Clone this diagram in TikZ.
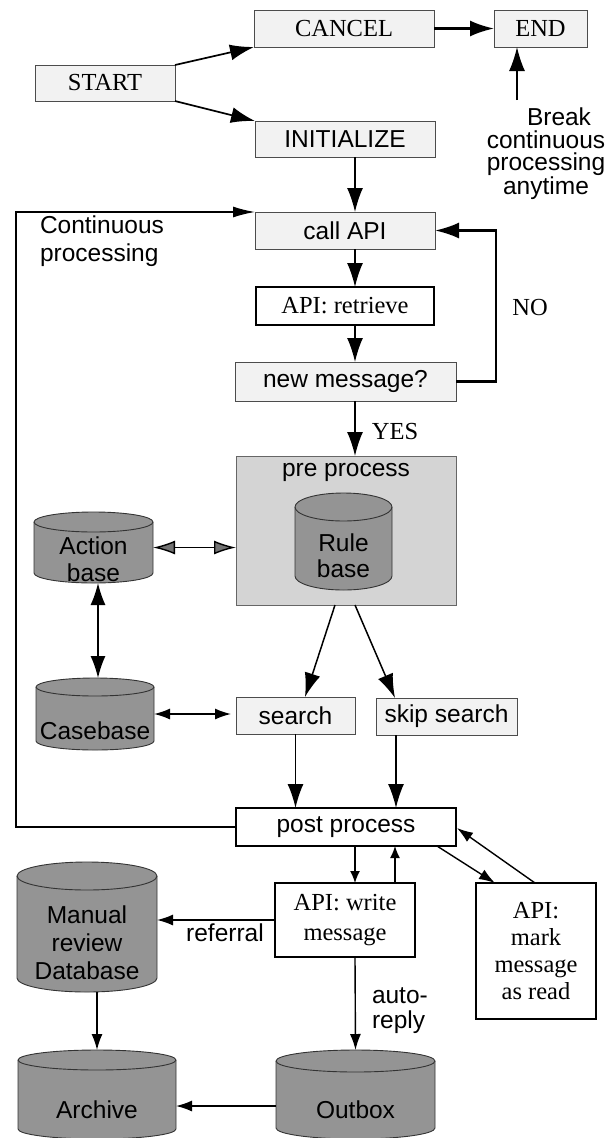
\documentclass[tikz,border=0pt]{standalone}
\usepackage{fontspec}
\setmainfont{Liberation Serif}
\setsansfont{Liberation Sans}
\usetikzlibrary{arrows.meta,calc}
\newcommand\cylat[6]{%
  \filldraw[cylbody] (#2,#3+#6) -- (#2,#5-#6) arc[start angle=180,end angle=360,x radius={(#4-#2)/2*1pt},y radius=#6pt] -- (#4,#3+#6) arc[start angle=0,end angle=180,x radius={(#4-#2)/2*1pt},y radius=#6pt] -- cycle;
  \draw[cylrim] (#2,#3+#6) arc[start angle=180,end angle=360,x radius={(#4-#2)/2*1pt},y radius=#6pt];
  \node[minimum width={(#4-#2)*1pt}, minimum height={(#5-#3)*1pt}] (#1) at ({(#2+#4)/2},{(#3+#5)/2}) {};
}
\begin{document}
\begin{tikzpicture}[x=1pt,y=-1pt,
  every node/.style={inner sep=0pt, outer sep=0pt},
  sf/.style={font=\sffamily\fontsize{24.5}{28}\selectfont},
  rm/.style={font=\rmfamily\fontsize{24.5}{28}\selectfont},
  lbox/.style={draw=black!70, line width=0.9pt, fill=black!5},
  wbox/.style={draw=black, line width=1.2pt, fill=white},
  cylbody/.style={draw=black!80, line width=0.9pt, fill=black!42},
  cylrim/.style={draw=black!80, line width=0.9pt},
  big/.style={line width=1.5pt, -{Latex[length=24pt,width=16pt]}},
  bigs/.style={line width=1.4pt, -{Latex[length=22pt,width=11pt]}},
  dbig/.style={line width=1.4pt, {Latex[length=22pt,width=15pt]}-{Latex[length=22pt,width=15pt]}},
  dgray/.style={line width=1.4pt, {Latex[length=22pt,width=14pt,fill=black!55]}-{Latex[length=22pt,width=14pt,fill=black!55]}},
  dmid/.style={line width=1.4pt, {Latex[length=16pt,width=11pt]}-{Latex[length=16pt,width=11pt]}},
  mid/.style={line width=1.4pt, -{Latex[length=16pt,width=11pt]}},
  small/.style={line width=1.4pt, -{Latex[length=12pt,width=10pt]}},
]
\useasboundingbox (0,0) rectangle (615,1138);

% top boxes
\node[lbox, rm, minimum width=180pt, minimum height=37pt] (cancel) at (344,28.5) {CANCEL};
\node[lbox, rm, minimum width=93pt, minimum height=37pt] (endbox) at (540.5,28.5) {END};
\node[lbox, rm, minimum width=140pt, minimum height=36pt] (start) at (105,83) {START};
\node[lbox, sf, minimum width=180pt, minimum height=36pt] (init) at (345,139) {INITIALIZE};
\node[lbox, sf, minimum width=180pt, minimum height=37pt] (callapi) at (345,230.5) {call API};
\node[wbox, rm, minimum width=178pt, minimum height=38pt] (retrieve) at (345,306) {API: retrieve};
\node[lbox, sf, minimum width=221pt, minimum height=39pt] (newmsg) at (345.5,381.5) {new message?};

% texts
\node[align=center, font=\sffamily\fontsize{24.5}{22.5}\selectfont] (brktxt) at (546,154) {\hspace*{26pt}Break\\continuous\\processing\\anytime};
\node[sf, align=left, anchor=west] (conttxt) at (40,241) {Continuous\\processing};
\node[rm] (notxt) at (530,308) {NO};
\node[rm] (yestxt) at (395,432) {YES};

% pre process
\node[draw=black!60, line width=0.9pt, fill=black!17, minimum width=220pt, minimum height=149pt] (pre) at (346,530.5) {};
\node[sf] (pretxt) at (346,472) {pre process};
\cylat{rule}{295}{493}{392}{590}{14}
\node[align=center, font=\sffamily\fontsize{24.5}{26}\selectfont] (ruletxt) at (343.5,556) {Rule\\base};

% databases left
\cylat{action}{34}{512}{153}{583}{10}
\node[align=center, font=\sffamily\fontsize{24.5}{27}\selectfont] (actiontxt) at (93.5,559) {Action\\base};
\cylat{casebase}{36}{678}{154}{750}{9}
\node[sf] (casetxt) at (95,731) {Casebase};

% search
\node[lbox, sf, minimum width=119pt, minimum height=37pt] (search) at (295.5,715.5) {search};
\node[lbox, sf, minimum width=141pt, minimum height=37pt] (skip) at (446.5,716.5) {skip search};
\node[wbox, sf, minimum width=220pt, minimum height=38pt] (post) at (346,827) {post process};

% lower
\node[wbox, align=center, font=\rmfamily\fontsize{24.5}{30}\selectfont, minimum width=140pt, minimum height=74pt] (write) at (345,920) {API: write\\message};
\node[wbox, align=center, font=\rmfamily\fontsize{24.5}{27.3}\selectfont, minimum width=120pt, minimum height=136pt] (mark) at (536,951) {API:\\mark\\message\\as read};
\cylat{manual}{17}{862}{157}{992}{14}
\node[align=center, font=\sffamily\fontsize{24.5}{28}\selectfont] (manualtxt) at (87,943) {Manual\\review\\Database};
\cylat{archive}{18}{1050}{176}{1139}{10}
\node[sf] (archivetxt) at (97,1110) {Archive};
\cylat{outbox}{276}{1050}{435}{1139}{11}
\node[sf] (outboxtxt) at (355.5,1110) {Outbox};
\node[sf] (reftxt) at (225,933) {referral};
\node[align=left, anchor=west, font=\sffamily\fontsize{24.5}{25}\selectfont] (autotxt) at (372,1011) {auto-\\reply};

% coordinates
\coordinate (colx) at (355,0);
\coordinate (brk) at (517,100);
\coordinate (nox) at (496,0);
\coordinate (loopx) at (16,0);

% connectors
\draw[big, line width=1.7pt] (start.north east) -- (cancel.south west);
\draw[big, line width=1.7pt] (start.south east) -- (init.north west);
\draw[big, line width=2.2pt] (cancel.east) -- (endbox.west);
\draw[big] (brk) -- (brk |- endbox.south);
\draw[big] (init.south -| colx) -- (callapi.north -| colx);
\draw[big] (callapi.south -| colx) -- (retrieve.north -| colx);
\draw[big] (retrieve.south -| colx) -- (newmsg.north -| colx);
\draw[big] (newmsg.south -| colx) -- (pre.north -| colx);
\draw[big, line width=2.4pt] (newmsg.east) -| (nox |- callapi.east) -- (callapi.east);
\draw[bigs] (post.west) -| (loopx |- callapi.north west) -- (callapi.north west);

\draw[dgray] (action.east) -- (action.east -| pre.west);
\draw[dbig] (action.south -| casebase.north) ++(3,0) coordinate (acb) (acb) -- (acb |- casebase.north);
\draw[dmid, shorten >=5pt] (casebase.east) -- (casebase.east -| search.west);
\draw[big] ($(pre.south)+(-11,0)$) -- ($(search.north)+(9.5,0)$);
\draw[big] ($(pre.south)+(9,0)$) -- ($(skip.north)+(-51.5,0)$);
\draw[big] (search.south) -- (search.south |- post.north);
\draw[big] ($(skip.south)+(-50.5,0)$) -- ($(skip.south |- post.north)+(-50.5,0)$);

\draw[small] (post.south -| colx) -- (write.north -| colx);
\draw[small] ($(write.north)+(50,0)$) -- ($(post.south)+(49,0)$);
\draw[mid] ($(post.south)+(91,0)$) -- ($(mark.north)+(-41,0)$);
\draw[mid] ($(mark.north)+(-1,0)$) -- ($(post.east)+(1,1)$);
\draw[mid] (write.west) -- (write.west -| manual.east);
\draw[mid] (write.south -| colx) -- (outbox.north);
\draw[mid] (archive.north |- manual.south) -- (archive.north);
\coordinate (obx) at (276,1106);
\draw[mid] (obx) -- (obx -| archive.east);
\end{tikzpicture}
\end{document}
